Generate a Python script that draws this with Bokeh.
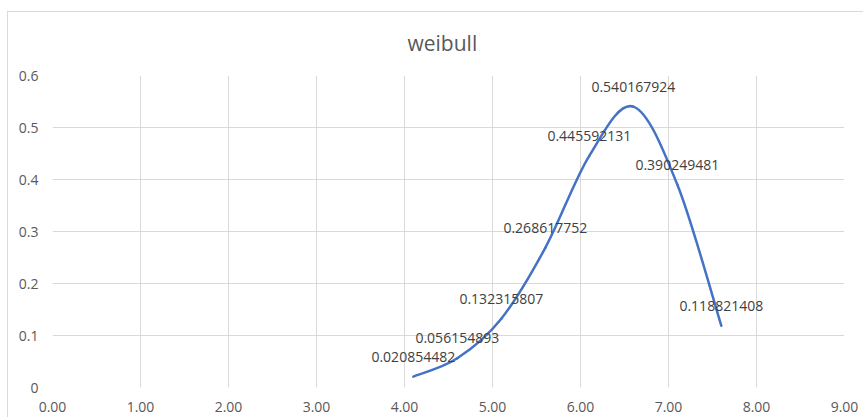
from bokeh.plotting import figure
from bokeh.models import ColumnDataSource, FixedTicker
from bokeh.core.properties import value
from bokeh.embed import file_html
from bokeh.resources import INLINE

# Data
title_text = "weibull"
x_vals = [4.1, 4.6, 5.1, 5.6, 6.1, 6.6, 7.1, 7.6]
y_vals = [0.020854482, 0.056154893, 0.132315807, 0.268617752,
          0.445592131, 0.540167924, 0.390249481, 0.118821408]
x_ticks = [0, 1, 2, 3, 4, 5, 6, 7, 8, 9]
x_tick_labels = ["0.00", "1.00", "2.00", "3.00", "4.00", "5.00", "6.00", "7.00", "8.00", "9.00"]
y_ticks = [0, 0.1, 0.2, 0.3, 0.4, 0.5, 0.6]
y_tick_labels = ["0", "0.1", "0.2", "0.3", "0.4", "0.5", "0.6"]

FONT = "Open Sans"
GRID = "#d9d9d9"

p = figure(width=856, height=406, x_range=(0, 9), y_range=(0, 0.6),
           output_backend="svg", toolbar_location=None,
           min_border_left=44, min_border_right=20,
           min_border_top=63, min_border_bottom=31)
p.margin = (11, 0, 0, 7)
p.styles = {"border-top": "1px solid #d9d9d9", "border-left": "1px solid #d9d9d9"}
p.outline_line_color = None
p.background_fill_color = "white"
p.border_fill_color = "white"

# Title
p.title.text = title_text
p.title.align = "left"
p.title.offset = 355
p.title.standoff = 33
p.title.vertical_align = "top"
p.title.text_font = FONT
p.title.text_font_size = "21px"
p.title.text_font_style = "normal"
p.title.text_color = "#595959"

# Axes
for ax in (p.xaxis[0], p.yaxis[0]):
    ax.axis_line_color = None
    ax.major_tick_line_color = None
    ax.minor_tick_line_color = None
    ax.major_tick_in = 0
    ax.major_tick_out = 0
    ax.major_label_text_font = FONT
    ax.major_label_text_font_size = "14px"
    ax.major_label_text_color = "#595959"

p.xaxis.ticker = FixedTicker(ticks=x_ticks)
p.xaxis.major_label_overrides = {t: l for t, l in zip(x_ticks, x_tick_labels)}
p.xaxis.major_label_standoff = 14
p.yaxis.ticker = FixedTicker(ticks=y_ticks)
p.yaxis.major_label_overrides = {t: l for t, l in zip(y_ticks, y_tick_labels)}
p.yaxis.major_label_standoff = 14

p.xgrid.grid_line_color = GRID
p.ygrid.grid_line_color = GRID
p.xgrid.grid_line_width = 1
p.ygrid.grid_line_width = 1

# Smoothed line (Bezier segments with Catmull-Rom style control points)
n = len(x_vals)
x0, y0, x1, y1, cx0, cy0, cx1, cy1 = [], [], [], [], [], [], [], []
for i in range(n - 1):
    pxm, pym = (x_vals[i - 1], y_vals[i - 1]) if i > 0 else (x_vals[i], y_vals[i])
    pxa, pya = x_vals[i], y_vals[i]
    pxb, pyb = x_vals[i + 1], y_vals[i + 1]
    pxp, pyp = (x_vals[i + 2], y_vals[i + 2]) if i + 2 < n else (pxb, pyb)
    x0.append(pxa); y0.append(pya); x1.append(pxb); y1.append(pyb)
    cx0.append(pxa + (pxb - pxm) / 6.0); cy0.append(pya + (pyb - pym) / 6.0)
    cx1.append(pxb - (pxp - pxa) / 6.0); cy1.append(pyb - (pyp - pya) / 6.0)

bez = ColumnDataSource(dict(x0=x0, y0=y0, x1=x1, y1=y1, cx0=cx0, cy0=cy0, cx1=cx1, cy1=cy1))
p.bezier(x0="x0", y0="y0", x1="x1", y1="y1", cx0="cx0", cy0="cy0", cx1="cx1", cy1="cy1",
         source=bez, line_color="#4472C4", line_width=2.5, line_cap="round")

# Data labels
lab = ColumnDataSource(dict(x=x_vals, y=y_vals, t=[f"{v:.9f}".rstrip("0") for v in y_vals]))
p.text(x="x", y="y", text="t", source=lab, text_align="center", text_baseline="alphabetic",
       y_offset=-20, text_font=value(FONT), text_font_size="14px", text_color="#404040")

open("out.html", "w").write(file_html(p, INLINE))
